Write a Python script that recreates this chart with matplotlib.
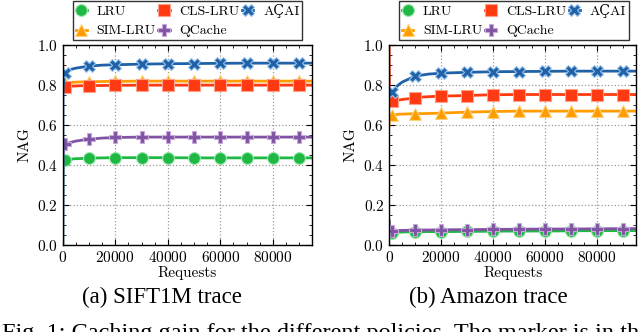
import matplotlib
matplotlib.use('Agg')
import matplotlib.pyplot as plt
from matplotlib.ticker import MultipleLocator

plt.rcParams['font.family'] = ['cmr10', 'DejaVu Serif']
plt.rcParams['axes.formatter.use_mathtext'] = True

requests = [0, 100, 500, 1000, 2000, 3500, 5000, 7500, 10000, 15000, 20000,
            30000, 40000, 50000, 60000, 70000, 80000, 90000, 95000]
marker_idx = [3, 8, 10, 11, 12, 13, 14, 15, 16, 17]

policies = ['LRU', 'SIM-LRU', 'CLS-LRU', 'QCache', 'AÇAI']

sift_lru = [0.0, 0.38, 0.42, 0.425, 0.428, 0.43, 0.432, 0.433, 0.435, 0.436, 0.437,
            0.437, 0.437, 0.436, 0.436, 0.436, 0.436, 0.436, 0.436]
sift_sim = [0.78, 0.80, 0.81, 0.81, 0.812, 0.814, 0.815, 0.816, 0.817, 0.818, 0.819,
            0.82, 0.82, 0.82, 0.82, 0.82, 0.82, 0.82, 0.82]
sift_cls = [0.92, 0.80, 0.79, 0.79, 0.792, 0.795, 0.796, 0.797, 0.798, 0.798, 0.799,
            0.80, 0.80, 0.80, 0.80, 0.80, 0.80, 0.80, 0.80]
sift_qcache = [0.0, 0.45, 0.50, 0.505, 0.51, 0.515, 0.52, 0.525, 0.53, 0.535, 0.538,
               0.54, 0.54, 0.54, 0.54, 0.54, 0.54, 0.54, 0.54]
sift_acai = [0.0, 0.78, 0.84, 0.86, 0.87, 0.88, 0.885, 0.89, 0.895, 0.90, 0.902,
             0.905, 0.907, 0.908, 0.909, 0.91, 0.91, 0.91, 0.91]

amz_lru = [0.12, 0.08, 0.065, 0.062, 0.063, 0.064, 0.065, 0.066, 0.066, 0.067, 0.067,
           0.068, 0.069, 0.07, 0.07, 0.071, 0.072, 0.072, 0.072]
amz_sim = [0.60, 0.64, 0.645, 0.65, 0.652, 0.654, 0.655, 0.656, 0.657, 0.658, 0.66,
           0.665, 0.668, 0.67, 0.67, 0.67, 0.67, 0.67, 0.67]
amz_cls = [1.0, 0.75, 0.72, 0.72, 0.722, 0.725, 0.728, 0.732, 0.738, 0.742, 0.745,
           0.748, 0.752, 0.753, 0.753, 0.753, 0.753, 0.753, 0.753]
amz_qcache = [0.12, 0.09, 0.075, 0.072, 0.072, 0.073, 0.073, 0.074, 0.075, 0.075, 0.076,
              0.077, 0.078, 0.079, 0.08, 0.08, 0.081, 0.082, 0.082]
amz_acai = [0.78, 0.76, 0.76, 0.765, 0.78, 0.80, 0.815, 0.83, 0.845, 0.855, 0.86,
            0.864, 0.867, 0.868, 0.869, 0.87, 0.87, 0.87, 0.87]

colors = ['#1fb845', '#ff9c00', '#ff3a12', '#8054a2', '#1f62a8']
edges = ['#9be8ad', '#ffd27a', '#ffa08a', '#c8a8dc', '#9cc4ec']
markers = ['o', '^', 's', 'P', 'X']

fig = plt.figure(figsize=(6.4, 3.32), dpi=100)
ax1 = fig.add_axes([0.098, 0.262, 0.39, 0.602])
ax2 = fig.add_axes([0.608, 0.262, 0.386, 0.602])

for ax, series, cx in [(ax1, [sift_lru, sift_sim, sift_cls, sift_qcache, sift_acai], 0.5),
                       (ax2, [amz_lru, amz_sim, amz_cls, amz_qcache, amz_acai], 0.506)]:
    for name, ys, c, ec, m in zip(policies, series, colors, edges, markers):
        ax.plot(requests, ys, color=c, lw=2, marker=m, markersize=8.5,
                markerfacecolor=c, markeredgecolor=ec, markeredgewidth=0.8,
                markevery=marker_idx, label=name)
    ax.set_xlim(0, 95000)
    ax.set_ylim(0, 1.0)
    ax.xaxis.set_major_locator(MultipleLocator(20000))
    ax.xaxis.set_minor_locator(MultipleLocator(5000))
    ax.yaxis.set_major_locator(MultipleLocator(0.2))
    ax.yaxis.set_minor_locator(MultipleLocator(0.05))
    ax.tick_params(which='both', direction='in', top=True, right=True, labelsize=11)
    ax.tick_params(which='major', length=4)
    ax.tick_params(which='minor', length=2)
    ax.grid(True, which='major', ls=':', color='#999999', lw=0.9)
    ax.set_axisbelow(True)
    ax.set_xlabel('Requests', fontsize=11, labelpad=1)
    ax.set_ylabel('NAG', fontsize=11)
    for s in ax.spines.values():
        s.set_linewidth(1.0)
    leg = ax.legend(loc='lower center', bbox_to_anchor=(cx, 1.025), ncol=3,
                    fontsize=10, frameon=True, fancybox=False, edgecolor='black',
                    handlelength=0.8, columnspacing=0.2, handletextpad=0.7,
                    borderpad=0.2, labelspacing=0.5, borderaxespad=0)
    leg.get_frame().set_linewidth(1.0)

fig.text(162 / 640, 0.105, '(a) SIFT1M trace', ha='center', va='center',
         fontsize=16.5, family='Liberation Serif')
fig.text(488 / 640, 0.105, '(b) Amazon trace', ha='center', va='center',
         fontsize=16.5, family='Liberation Serif')
fig.text(0.003, -0.022,
         'Fig. 1: Caching gain for the different policies. The marker is in the',
         ha='left', va='baseline', fontsize=17.5, family='Liberation Serif')

fig.savefig('out.png', dpi=100)
